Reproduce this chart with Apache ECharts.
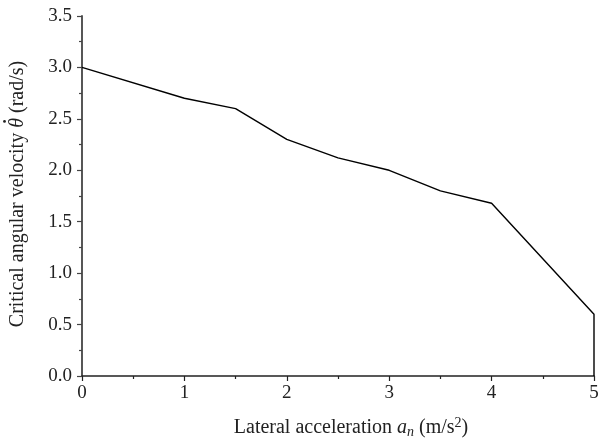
<!DOCTYPE html>
<html><head><meta charset="utf-8">
<script src="https://cdn.jsdelivr.net/npm/echarts@6/dist/echarts.min.js"></script>
<style>html,body{margin:0;padding:0;background:#fff}#c{width:599px;height:443px}</style>
</head><body><div id="c"></div>
<script>
const xValues = [0, 1, 1.5, 2, 2.5, 3, 3.5, 4, 5, 5];
const yValues = [3.0, 2.7, 2.6, 2.3, 2.12, 2.0, 1.8, 1.68, 0.6, 0];
const xTicks = [0, 1, 2, 3, 4, 5];
const yTicks = [0.0, 0.5, 1.0, 1.5, 2.0, 2.5, 3.0, 3.5];

const font = "'Liberation Serif', 'DejaVu Serif', serif";
const fs = 20;
const ctx = document.createElement('canvas').getContext('2d');
function w(t, italic) { ctx.font = (italic ? 'italic ' : '') + fs + 'px ' + font; return ctx.measureText(t).width; }
const p1 = 'Critical angular velocity ', p2 = 'θ', p3 = ' (rad/s)';
const w1 = w(p1), w2 = w(p2, true), w3 = w(p3);
const W = w1 + w2 + w3, x0 = -W / 2;
const tStyle = {fill: '#222', fontFamily: font, fontSize: fs, verticalAlign: 'middle'};

const chart = echarts.init(document.getElementById('c'));
chart.setOption({
  animation: false,
  grid: {left: 82, right: 5, top: 16, bottom: 67, containLabel: false, outerBoundsMode: 'none'},
  graphic: [{
    type: 'group', x: 18, y: 194, rotation: Math.PI / 2,
    children: [
      {type: 'text', x: x0, y: 0, style: Object.assign({}, tStyle, {text: p1})},
      {type: 'text', x: x0 + w1, y: 0, style: Object.assign({}, tStyle, {text: p2, fontStyle: 'italic'})},
      {type: 'circle', shape: {cx: x0 + w1 + w2 * 0.65, cy: -13.5, r: 1.4}, style: {fill: '#222'}},
      {type: 'text', x: x0 + w1 + w2, y: 0, style: Object.assign({}, tStyle, {text: p3})}
    ]
  }],
  xAxis: {
    type: 'value', min: 0, max: 5, interval: 1,
    axisLine: {onZero: false, lineStyle: {color: '#222', width: 1.5}},
    axisTick: {length: 5, lineStyle: {color: '#222', width: 1.2}},
    minorTick: {show: true, splitNumber: 2, length: 3, lineStyle: {color: '#222', width: 1.2}},
    splitLine: {show: false},
    axisLabel: {color: '#222', fontFamily: font, fontSize: 19, margin: 8,
      formatter: v => xTicks.includes(v) ? String(v) : ''},
    name: '{r|Lateral acceleration }{i|a}{sub|n}{r| (m/s}{sup|2}{r|)}',
    nameLocation: 'middle', nameGap: 40,
    nameTextStyle: {
      padding: [0, 0, 0, 26],
      rich: {
        r: {fontFamily: font, fontSize: 20, color: '#222'},
        i: {fontFamily: font, fontSize: 20, fontStyle: 'italic', color: '#222'},
        sub: {fontFamily: font, fontSize: 14, fontStyle: 'italic', color: '#222', verticalAlign: 'bottom', padding: [9, 0, 0, 0]},
        sup: {fontFamily: font, fontSize: 14, color: '#222', verticalAlign: 'top', padding: [0, 0, 9, 0]}
      }
    }
  },
  yAxis: {
    type: 'value', min: 0, max: 3.5, interval: 0.5,
    axisLine: {show: true, lineStyle: {color: '#444', width: 1.8}},
    axisTick: {show: true, length: 5, lineStyle: {color: '#444', width: 1.2}},
    minorTick: {show: true, splitNumber: 2, length: 3, lineStyle: {color: '#444', width: 1.2}},
    splitLine: {show: false},
    axisLabel: {color: '#222', fontFamily: font, fontSize: 19, margin: 10,
      formatter: v => yTicks.some(t => Math.abs(t - v) < 1e-9) ? v.toFixed(1) : ''}
  },
  series: [{
    type: 'line',
    data: xValues.map((x, i) => [x, yValues[i]]),
    showSymbol: false,
    lineStyle: {color: '#000', width: 1.4},
    clip: false
  }]
});
</script></body></html>
